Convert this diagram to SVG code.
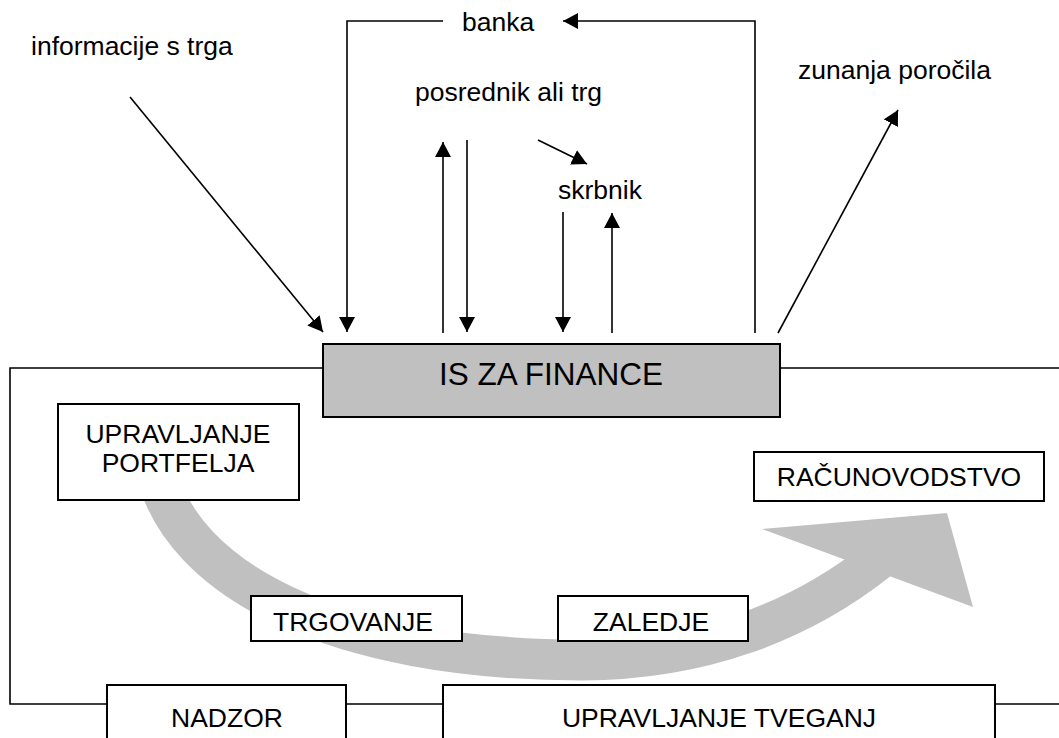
<svg xmlns="http://www.w3.org/2000/svg" width="1059" height="738" viewBox="0 0 1059 738">
<defs>
<marker id="ah" markerUnits="userSpaceOnUse" markerWidth="16" markerHeight="16" refX="15" refY="8" orient="auto" viewBox="0 0 16 16">
<path d="M0,0 L15,8 L0,16 z" fill="#000"/>
</marker>
<style>
.t{font-family:"Liberation Sans",Arial,sans-serif;font-size:26.5px;fill:#000}
.c{text-anchor:middle}
.box{fill:#fff;stroke:#000;stroke-width:2}
.ln{fill:none;stroke:#000;stroke-width:1.6}
.ar{fill:none;stroke:#000;stroke-width:1.6;marker-end:url(#ah)}
</style>
</defs>
<rect width="1059" height="738" fill="#fff"/>
<g id="flow">
<path d="M156,470 C181,580 335,660 582,660 C700,660 800,622 878,560" fill="none" stroke="#c0c0c0" stroke-width="41"/>
<polygon points="762,529 947,513 973,607" fill="#c0c0c0"/>
</g>
<g id="frame">
<path class="ln" d="M323,368 H10 V704 H107 M346,704 H443 M995,704 H1059 M780,368 H1059"/>
</g>
<g id="connectors">
<path class="ar" d="M443,21 H347 V332"/>
<path class="ar" d="M755,333 V21 H563"/>
<path class="ar" d="M130,97 L323,332"/>
<path class="ar" d="M443,333 V142"/>
<path class="ar" d="M467,140 V332"/>
<path class="ar" d="M538,140 L587,164"/>
<path class="ar" d="M563,212 V332"/>
<path class="ar" d="M612,333 V213"/>
<path class="ar" d="M778,333 L898,110"/>
</g>
<g id="banka"><text class="t" x="462" y="31">banka</text></g>
<g id="informacije"><text class="t" x="31" y="55">informacije s trga</text></g>
<g id="posrednik"><text class="t" x="415" y="101">posrednik ali trg</text></g>
<g id="skrbnik"><text class="t" x="558" y="199">skrbnik</text></g>
<g id="porocila"><text class="t" x="798" y="79">zunanja poročila</text></g>
<g id="is">
<rect x="323" y="344" width="457" height="73" fill="#c0c0c0" stroke="#000" stroke-width="2"/>
<text class="t c" x="551" y="385" style="font-size:31.5px">IS ZA FINANCE</text>
</g>
<g id="portfelj">
<rect class="box" x="58" y="404" width="241" height="96"/>
<text class="t c" x="178" y="443">UPRAVLJANJE</text>
<text class="t c" x="178" y="472">PORTFELJA</text>
</g>
<g id="racunovodstvo">
<rect class="box" x="754" y="452" width="290" height="49"/>
<text class="t c" x="899" y="486">RAČUNOVODSTVO</text>
</g>
<g id="trgovanje">
<rect class="box" x="251" y="596" width="211" height="45"/>
<text class="t c" x="353" y="631">TRGOVANJE</text>
</g>
<g id="zaledje">
<rect class="box" x="558" y="596" width="190" height="45"/>
<text class="t c" x="651" y="631">ZALEDJE</text>
</g>
<g id="nadzor">
<rect class="box" x="107" y="685" width="239" height="60"/>
<text class="t c" x="227" y="727">NADZOR</text>
</g>
<g id="tveganj">
<rect class="box" x="443" y="685" width="552" height="60"/>
<text class="t c" x="719" y="727">UPRAVLJANJE TVEGANJ</text>
</g>
</svg>
